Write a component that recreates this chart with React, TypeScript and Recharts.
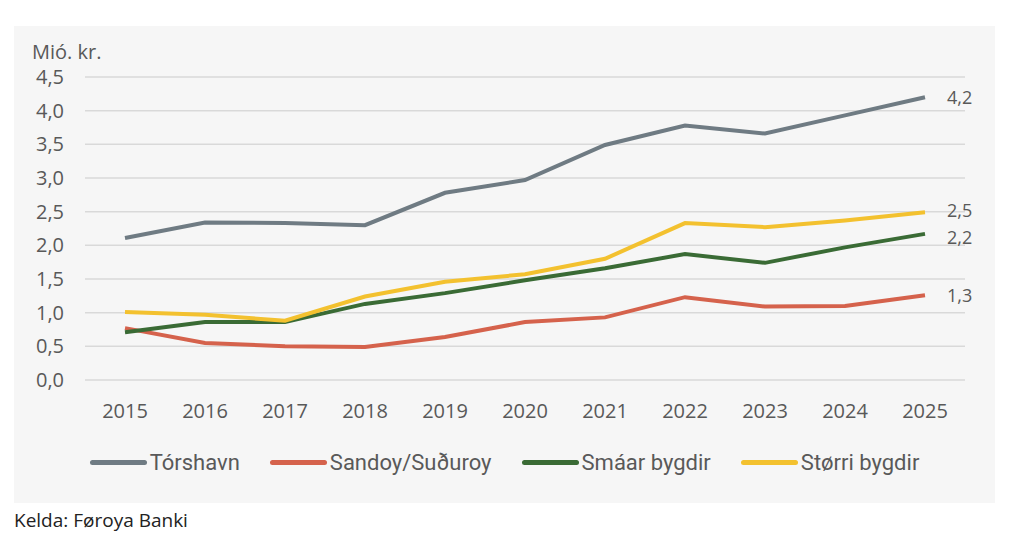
import React from 'react';
import { LineChart, Line, XAxis, YAxis, CartesianGrid, Legend, LabelList } from 'recharts';

const years = [2015, 2016, 2017, 2018, 2019, 2020, 2021, 2022, 2023, 2024, 2025];
const torshavn = [2.11, 2.34, 2.33, 2.3, 2.78, 2.97, 3.49, 3.78, 3.66, 3.93, 4.2];
const sandoy = [0.77, 0.55, 0.5, 0.49, 0.64, 0.86, 0.93, 1.23, 1.09, 1.1, 1.26];
const smaar = [0.71, 0.86, 0.86, 1.13, 1.29, 1.48, 1.66, 1.87, 1.74, 1.97, 2.17];
const storri = [1.01, 0.97, 0.88, 1.24, 1.46, 1.57, 1.8, 2.33, 2.27, 2.37, 2.49];
const yTicks = [0, 0.5, 1, 1.5, 2, 2.5, 3, 3.5, 4, 4.5];

const seriesKeys = ['torshavn', 'sandoy', 'smaar', 'storri'];
const seriesNames = ['Tórshavn', 'Sandoy/Suðuroy', 'Smáar bygdir', 'Størri bygdir'];
const seriesColors = ['#6f7b83', '#d5624c', '#3a6b35', '#f3c12f'];
const labelShift = [0, 0, 3, -2];

const unitLabel = 'Mió. kr.';
const sourceText = 'Kelda: Føroya Banki';

const data = years.map((year, i) => ({
  year,
  torshavn: torshavn[i],
  sandoy: sandoy[i],
  smaar: smaar[i],
  storri: storri[i],
}));

const FONT = '"Open Sans", sans-serif';
const TEXT = '#595959';
const fmt = (v: number) => v.toFixed(1).replace('.', ',');

const EndLabel = (props: any) => {
  const { x, y, value, index, shift } = props;
  if (index !== years.length - 1) return null;
  return (
    <text x={x + 22} y={y + (shift || 0)} dy={7} fill={TEXT} fontSize={18} fontFamily={FONT}>
      {fmt(value)}
    </text>
  );
};

const LegendContent = () => (
  <div style={{ display: 'flex', justifyContent: 'center', alignItems: 'center', fontFamily: 'Roboto, sans-serif', fontSize: 22, color: TEXT }}>
    {seriesNames.map((n, i) => (
      <div key={n} style={{ display: 'flex', alignItems: 'center', marginRight: i < seriesNames.length - 1 ? 30 : 0 }}>
        <span style={{ display: 'inline-block', width: 57, height: 5, borderRadius: 2.5, background: seriesColors[i], marginRight: 3 }} />
        <span>{n}</span>
      </div>
    ))}
  </div>
);

export default function App() {
  return (
    <div>
      <div style={{ position: 'absolute', left: 14, top: 26, width: 981, height: 477, background: '#f6f6f6' }}>
        <div style={{ position: 'absolute', left: 18, top: 12, fontFamily: FONT, fontSize: 20, color: TEXT }}>{unitLabel}</div>
        <LineChart width={981} height={477} data={data} margin={{ top: 51, right: 30, left: 11, bottom: 73 }}>
          <CartesianGrid vertical={false} stroke="#d9d9d9" strokeWidth={1.5} />
          <XAxis
            dataKey="year"
            type="number"
            domain={[2014.5, 2025.5]}
            ticks={years}
            interval={0}
            axisLine={false}
            tickLine={false}
            tickMargin={18}
            height={50}
            tick={{ fill: TEXT, fontSize: 20, fontFamily: FONT }}
          />
          <YAxis
            domain={[0, 4.5]}
            ticks={yTicks}
            interval={0}
            axisLine={false}
            tickLine={false}
            width={60}
            tickMargin={15}
            tickFormatter={fmt}
            tick={{ fill: TEXT, fontSize: 20, fontFamily: FONT }}
          />
          {seriesKeys.map((k, i) => (
            <Line
              key={k}
              dataKey={k}
              name={seriesNames[i]}
              stroke={seriesColors[i]}
              strokeWidth={4}
              dot={false}
              isAnimationActive={false}
            >
              <LabelList dataKey={k} content={<EndLabel shift={labelShift[i]} />} />
            </Line>
          ))}
          <Legend
            verticalAlign="middle"
            align="center"
            layout="horizontal"
            content={<LegendContent />}
            wrapperStyle={{ top: 424, left: 0, width: 981 }}
          />
        </LineChart>
      </div>
      <div style={{ position: 'absolute', left: 14, top: 507, fontFamily: FONT, fontSize: 19, color: '#222' }}>{sourceText}</div>
    </div>
  );
}
